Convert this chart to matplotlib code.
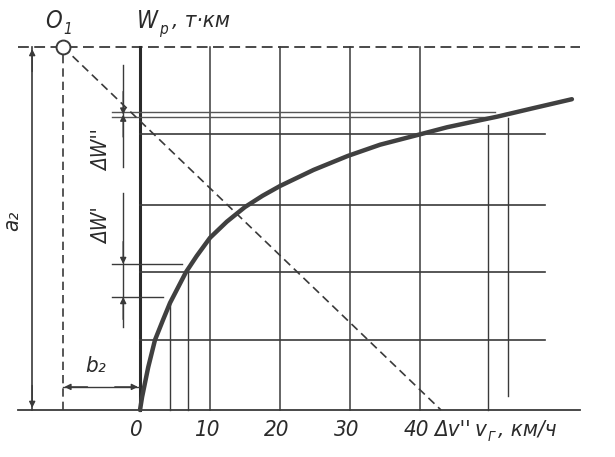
import matplotlib
matplotlib.use("Agg")
import matplotlib.pyplot as plt

# ---- data (speed v in km/h, work W in arbitrary drawing units) ----
curve_v = [0, 0.3, 1.17, 2.14, 3.3, 4.29, 6.57, 8.1, 10, 12.4, 15.0, 17.5, 20,
           24.8, 29.7, 34.3, 39.7, 43.9, 48.6, 51, 56.1, 61.7]
curve_W = [0, 1.86, 6.1, 10, 12.9, 15.3, 19.7, 22.0, 24.6, 26.9, 29.0, 30.6, 32,
           34.3, 36.3, 37.9, 39.3, 40.4, 41.4, 41.9, 43.1, 44.4]

x_ticks = [0, 10, 20, 30, 40]
x_tick_labels = ["0", "10", "20", "30", "40"]
grid_W = [10, 19.7, 29.3, 39.4]
top_W = 51.86
double_W = [42.5, 41.8]
dW_ticks = [20.86, 16.14]
O1_v = -11
a2_v = -15.4
dv_end = 43.0
extra_v = [49.7, 52.6]
near_v = [4.3, 6.9]
near_W = [15.3, 19.7]

LC = "#3a3a3a"
fam = ["DejaVu Sans"]

fig = plt.figure(figsize=(6.15, 4.57), dpi=100)
ax = fig.add_axes([0, 0, 1, 1])
ax.set_xlim(-20, 475 / 7)
ax.set_ylim(-47 / 7, 410 / 7)
ax.axis("off")

# baseline and top dashed line
ax.plot([-17.4, 62.9], [0, 0], color=LC, lw=1.3)
ax.plot([-17.4, 62.9], [top_W, top_W], color=LC, lw=1.3, ls=(0, (6, 3)))

# main W axis
ax.plot([0, 0], [0, top_W], color="#2a2a2a", lw=2.2)

# vertical grid lines
for v in x_ticks[1:]:
    ax.plot([v, v], [0, top_W], color=LC, lw=1.1)
ax.plot([extra_v[0], extra_v[0]], [0, 40.7], color=LC, lw=1.0)
ax.plot([extra_v[1], extra_v[1]], [2.0, 41.7], color=LC, lw=1.0)
for v, w in zip(near_v, near_W):
    ax.plot([v, v], [0, w], color=LC, lw=1.0)

# horizontal grid lines
for w in grid_W:
    ax.plot([0, 57.9], [w, w], color=LC, lw=1.2)
for w in double_W:
    ax.plot([-4.0, 50.7], [w, w], color="#555555", lw=1.0)
ax.plot([-4.0, 6.0], [dW_ticks[0], dW_ticks[0]], color=LC, lw=1.0)
ax.plot([-4.0, 3.3], [dW_ticks[1], dW_ticks[1]], color=LC, lw=1.0)

# diagonal dashed line and O1 vertical
ax.plot([O1_v, dv_end], [top_W, 0], color=LC, lw=1.2, ls=(0, (5, 3)))
ax.plot([O1_v, O1_v], [0, top_W], color=LC, lw=1.2, ls=(0, (5, 3)))
ax.plot([O1_v], [top_W], marker="o", ms=10, mfc="white", mec=LC, mew=1.4)

# the curve
ax.plot(curve_v, curve_W, color="#404040", lw=3.2, solid_capstyle="round",
        solid_joinstyle="round")

# dimension a2
ax.plot([a2_v, a2_v], [0, top_W], color=LC, lw=1.2)
ap = dict(arrowstyle="-|>", color=LC, lw=1.0, mutation_scale=9,
          shrinkA=0, shrinkB=0)
ax.annotate("", xy=(a2_v, top_W - 0.3), xytext=(a2_v, top_W - 3.5), arrowprops=ap)
ax.annotate("", xy=(a2_v, 0.3), xytext=(a2_v, 3.5), arrowprops=ap)

# dimension b2
ax.plot([O1_v, -0.2], [3.3, 3.3], color=LC, lw=1.0)
ax.annotate("", xy=(O1_v + 0.2, 3.3), xytext=(O1_v + 3.5, 3.3), arrowprops=ap)
ax.annotate("", xy=(-0.3, 3.3), xytext=(-3.6, 3.3), arrowprops=ap)

# dimension dW'' / dW'
dx = -2.4
ax.plot([dx, dx], [(410 - 65) / 7, (410 - 167) / 7], color=LC, lw=1.0)
ax.plot([dx, dx], [(410 - 193) / 7, (410 - 327) / 7], color=LC, lw=1.0)
ax.annotate("", xy=(dx, 42.2), xytext=(dx, 45.5), arrowprops=ap)
ax.annotate("", xy=(dx, 42.2), xytext=(dx, 39.0), arrowprops=ap)
ax.annotate("", xy=(dx, dW_ticks[0]), xytext=(dx, dW_ticks[0] + 3.2), arrowprops=ap)
ax.annotate("", xy=(dx, dW_ticks[1]), xytext=(dx, dW_ticks[1] - 3.2), arrowprops=ap)

# text
tk = dict(color="#2a2a2a", style="italic", family=fam, stretch="condensed")
for v, lab in zip(x_ticks, x_tick_labels):
    ax.text(v - 0.5, -2.8, lab, ha="center", va="center", fontsize=16, **tk)
ax.text(44.7, -2.8, "Δv''", ha="center", va="center", fontsize=16, **tk)
ax.text(47.8, -2.8, "v", ha="left", va="center", fontsize=16, **tk)
ax.text(49.6, -3.9, "Г", ha="left", va="center", fontsize=10, **tk)
ax.text(51.1, -2.8, ", км/ч", ha="left", va="center", fontsize=16, **tk)

ax.text(-0.4, 55.6, "W", ha="left", va="center", fontsize=17, **tk)
ax.text(2.7, 54.3, "р", ha="left", va="center", fontsize=11, **tk)
ax.text(4.5, 55.6, ", т·км", ha="left", va="center", fontsize=16, **tk)
ax.text(-13.6, 55.6, "O", ha="left", va="center", fontsize=17, **tk)
ax.text(-10.9, 54.4, "1", ha="left", va="center", fontsize=11, **tk)

ax.text(-18.2, 27.0, "a₂", ha="center", va="center", fontsize=16, rotation=90, **tk)
ax.text(-6.3, 6.3, "b₂", ha="center", va="center", fontsize=16, **tk)
ax.text(-5.4, 37.1, "ΔW''", ha="center", va="center", fontsize=15, rotation=90, **tk)
ax.text(-5.4, 26.4, "ΔW'", ha="center", va="center", fontsize=15, rotation=90, **tk)

fig.savefig("out.png", dpi=100, facecolor="white")
